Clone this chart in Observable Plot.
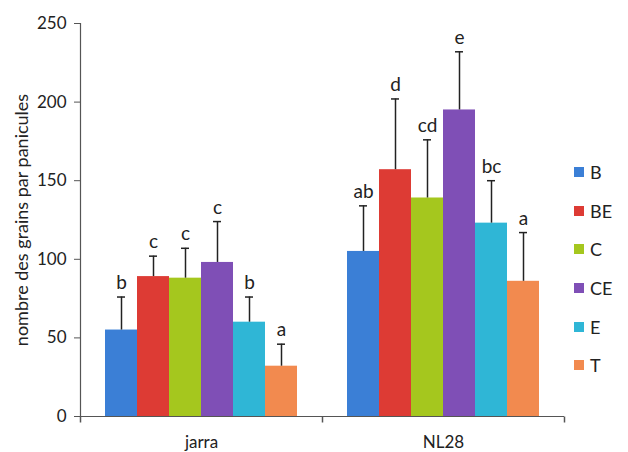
<!DOCTYPE html>
<html>
<head>
<meta charset="utf-8">
<script src="https://cdn.jsdelivr.net/npm/d3@7"></script>
<script src="https://cdn.jsdelivr.net/npm/@observablehq/plot@0.6"></script>
<style>
  html, body { margin: 0; padding: 0; background: #fff; }
  #wrap { position: relative; width: 628px; height: 452px; font-family: Lato, "Open Sans", sans-serif; }
  #legend { position: absolute; left: 574px; top: 153px; }
  .row { height: 38.6px; display: flex; align-items: center; font-size: 18px; color: #222; }
  .sw { width: 10px; height: 10px; margin-right: 6px; }
</style>
</head>
<body>
<div id="wrap"></div>
<script>
const groups = ["jarra", "NL28"];
const treatments = ["B", "BE", "C", "CE", "E", "T"];
const colors = ["#3b7fd6", "#dd3b34", "#a5c71e", "#7f4fb6", "#2fb6d6", "#f28a4f"];
const jarraMeans = [55, 89, 88, 98, 60, 32];
const jarraErrors = [21, 13, 19, 26, 16, 14];
const jarraLetters = ["b", "c", "c", "c", "b", "a"];
const nl28Means = [105, 157, 139, 195, 123, 86];
const nl28Errors = [29, 45, 37, 37, 27, 31];
const nl28Letters = ["ab", "d", "cd", "e", "bc", "a"];
const yTicks = [0, 50, 100, 150, 200, 250];
const yLabel = "nombre des grains par panicules";

const rows = [];
treatments.forEach((t, i) => rows.push({group: "jarra", t, v: jarraMeans[i], e: jarraErrors[i], l: jarraLetters[i]}));
treatments.forEach((t, i) => rows.push({group: "NL28", t, v: nl28Means[i], e: nl28Errors[i], l: nl28Letters[i]}));

const tickSymbol = {draw(ctx) { ctx.moveTo(0, 0); ctx.lineTo(0, 6); }};

const chart = Plot.plot({
  width: 628,
  height: 452,
  marginLeft: 80,
  marginRight: 64,
  marginTop: 23,
  marginBottom: 36,
  style: {fontFamily: "Lato, 'Open Sans', sans-serif", fontSize: "17px", color: "#222", background: "#fff"},
  fx: {domain: groups, padding: 0},
  x: {domain: treatments, paddingInner: 0, paddingOuter: 0.72, axis: null},
  y: {domain: [0, 250]},
  color: {domain: treatments, range: colors},
  marks: [
    Plot.axisFx({anchor: "bottom", tickSize: 0, tickPadding: 19, fontSize: 17, label: null}),
    Plot.axisY({ticks: yTicks, tickSize: 6, tickPadding: 8, fontSize: 17, label: null, stroke: "#555"}),
    Plot.frame({anchor: "left", facet: "super", stroke: "#555", strokeWidth: 1.2}),
    Plot.text([yLabel], {fx: () => "jarra", frameAnchor: "left", textAnchor: "middle", rotate: -90, dx: -58, fontSize: 18, fill: "#222", text: d => d}),
    Plot.barY(rows, {fx: "group", x: "t", y: "v", fill: "t"}),
    Plot.ruleX(rows, {fx: "group", x: "t", y1: "v", y2: d => d.v + d.e, stroke: "#222", strokeWidth: 1.5}),
    Plot.tickY(rows, {fx: "group", x: "t", y: d => d.v + d.e, stroke: "#222", strokeWidth: 1.5, insetLeft: 12, insetRight: 12}),
    Plot.text(rows, {fx: "group", x: "t", y: d => d.v + d.e, text: "l", lineAnchor: "bottom", dy: -8, fontSize: 19, fill: "#222"}),
    Plot.ruleY([0], {stroke: "#555", strokeWidth: 1.2}),
    Plot.dot(groups, {fx: d => d, frameAnchor: "bottom-left", symbol: tickSymbol, stroke: "#555", fill: "none"}),
    Plot.dot(["NL28"], {fx: d => d, frameAnchor: "bottom-right", symbol: tickSymbol, stroke: "#555", fill: "none"})
  ]
});
const wrap = document.getElementById("wrap");
wrap.appendChild(chart);

const legend = document.createElement("div");
legend.id = "legend";
treatments.forEach((t, i) => {
  const row = document.createElement("div");
  row.className = "row";
  const sw = document.createElement("span");
  sw.className = "sw";
  sw.style.background = colors[i];
  const lab = document.createElement("span");
  lab.textContent = t;
  row.appendChild(sw);
  row.appendChild(lab);
  legend.appendChild(row);
});
wrap.appendChild(legend);
</script>
</body>
</html>
